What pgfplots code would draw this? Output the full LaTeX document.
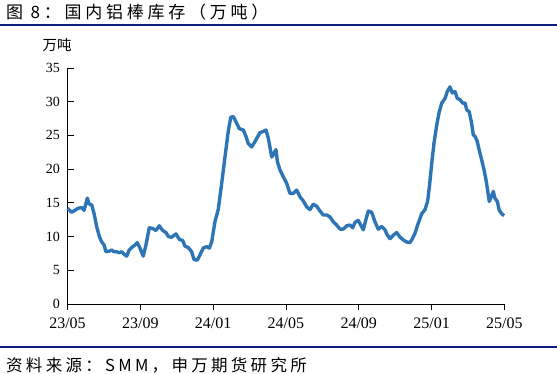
\documentclass[border=0pt]{standalone}
\usepackage{fontspec}
\setmainfont{Liberation Serif}
\newfontfamily\cjk{Noto Sans CJK SC}
\newfontfamily\cjkt[LetterSpace=22]{Noto Sans CJK SC}
\newfontfamily\cjkf[LetterSpace=20]{Noto Sans CJK SC}
\usepackage{pgfplots}
\pgfplotsset{compat=1.18}
\definecolor{navyline}{RGB}{16,30,125}
\definecolor{curve}{RGB}{46,117,182}
\pgfplotstableread{
m v
0 14.2
0.23 13.6
0.41 13.9
0.59 14.2
0.78 14.3
0.91 13.9
1.09 15.7
1.20 14.8
1.33 14.7
1.46 13.4
1.60 11.5
1.75 10.0
1.88 9.2
2.01 8.75
2.11 7.75
2.30 7.85
2.43 8.0
2.55 7.75
2.70 7.75
2.85 7.6
2.98 7.75
3.10 7.4
3.25 7.1
3.39 8.0
3.58 8.5
3.71 8.75
3.83 9.1
3.98 8.3
4.16 7.1
4.31 8.75
4.49 11.3
4.68 11.2
4.86 10.9
5.04 11.6
5.23 10.9
5.41 10.6
5.54 10.0
5.72 9.9
5.96 10.4
6.14 9.6
6.33 9.4
6.45 8.6
6.64 8.35
6.82 7.75
6.95 6.6
7.13 6.5
7.28 7.3
7.46 8.3
7.65 8.5
7.79 8.3
7.92 9.2
8.10 12.2
8.28 14.0
8.47 17.9
8.65 21.8
8.83 25.6
8.97 27.7
9.11 27.8
9.26 27.0
9.44 26.0
9.66 25.8
9.81 24.8
9.93 23.8
10.12 23.3
10.30 24.1
10.57 25.4
10.76 25.6
10.90 25.8
11.03 24.6
11.22 21.8
11.34 22.3
11.45 22.9
11.53 21.1
11.67 19.9
11.85 18.9
12.04 17.9
12.22 16.4
12.40 16.4
12.59 16.9
12.77 15.9
12.95 15.3
13.14 14.4
13.32 14.0
13.50 14.8
13.69 14.5
13.87 13.8
14.05 13.2
14.24 13.2
14.42 12.9
14.60 12.2
14.79 11.7
14.97 11.1
15.15 11.1
15.34 11.6
15.52 11.7
15.67 11.3
15.79 12.1
15.97 12.4
16.11 11.7
16.25 11.0
16.40 12.6
16.53 13.8
16.71 13.6
16.89 12.2
17.07 11.1
17.26 11.5
17.44 11.0
17.57 10.2
17.72 9.7
17.90 10.2
18.08 10.6
18.27 9.9
18.45 9.5
18.63 9.2
18.81 9.1
18.91 9.5
19.09 10.5
19.27 12.0
19.46 13.4
19.64 14.0
19.78 15.2
19.88 17.4
20.01 20.9
20.13 23.8
20.28 26.5
20.42 28.5
20.56 29.8
20.74 30.5
20.86 31.5
21.01 32.2
21.14 31.3
21.29 31.5
21.41 30.5
21.56 30.3
21.71 29.8
21.84 29.8
21.93 28.8
22.07 28.5
22.20 26.8
22.29 25.1
22.40 24.8
22.51 24.1
22.62 22.8
22.75 21.4
22.88 19.9
22.99 18.4
23.06 17.2
23.17 15.2
23.28 15.9
23.39 16.7
23.48 15.7
23.61 15.2
23.72 13.9
23.85 13.4
23.98 13.1
}\inventory
\begin{document}
\begin{tikzpicture}
\useasboundingbox (0pt,0pt) rectangle (557pt,373pt);
\draw[navyline, line width=2pt] (0pt,348pt) -- (557pt,348pt);
\draw[navyline, line width=2pt] (0pt,26.2pt) -- (557pt,26.2pt);
\node[anchor=west, inner sep=0pt] at (6pt,360.7pt) {\fontsize{17}{17}\cjkt 图 8：国内铝棒库存（万吨）};
\node[anchor=west, inner sep=0pt] at (6pt,7.5pt) {\fontsize{16.5}{16.5}\cjkf 资料来源：SMM，申万期货研究所};
\node[inner sep=0pt] at (57pt,328pt) {\fontsize{14.5}{14.5}\cjk 万吨};
\begin{axis}[
  at={(67.5pt,69pt)}, anchor=south west,
  scale only axis, width=436.9pt, height=236pt,
  xmin=0, xmax=24, ymin=0, ymax=35,
  axis x line*=bottom, axis y line*=left,
  axis line style={black, line width=0.9pt},
  xtick={0,4,8,12,16,20,24},
  xticklabels={23/05,23/09,24/01,24/05,24/09,25/01,25/05},
  ytick={0,5,...,35},
  xtick align=outside, ytick align=inside,
  major tick length=6pt,
  tick style={black, line width=0.9pt},
  /pgf/number format/assume math mode=true,
  xticklabel style={font=\fontsize{16}{16}\selectfont, yshift=-4pt},
  yticklabel style={font=\fontsize{14}{14}\selectfont, xshift=-4pt},
  clip=false,
]
\addplot[curve, line width=3.4pt, line join=round] table[x=m, y=v] {\inventory};
\end{axis}
\end{tikzpicture}
\end{document}
